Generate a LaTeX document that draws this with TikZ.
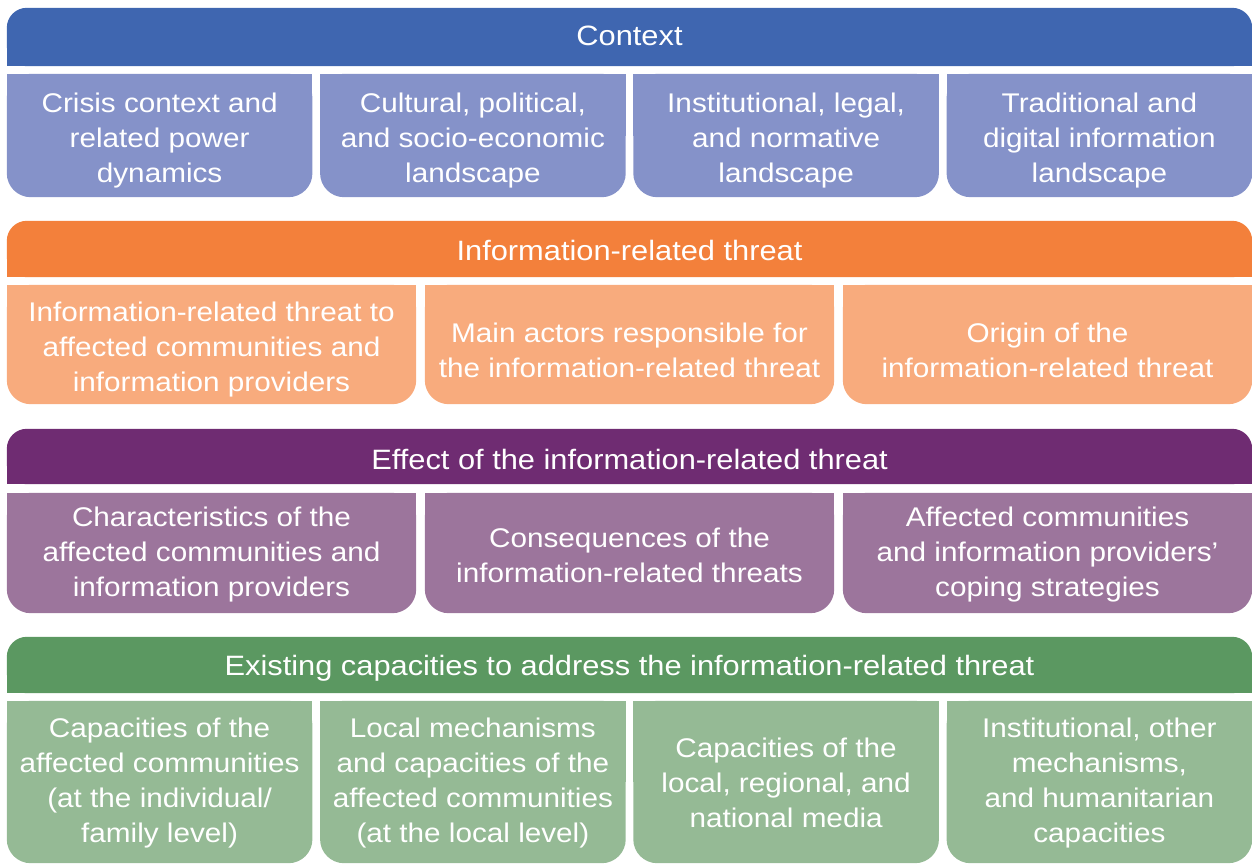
\documentclass[tikz,border=0pt]{standalone}
\usepackage{fontspec}
\setmainfont{Liberation Sans}[FakeStretch=1.1]
\usetikzlibrary{backgrounds}

\definecolor{ctxH}{HTML}{3F66B0}
\definecolor{ctxS}{HTML}{8592C9}
\definecolor{thrH}{HTML}{F3803B}
\definecolor{thrS}{HTML}{F8AB7D}
\definecolor{effH}{HTML}{6F2C72}
\definecolor{effS}{HTML}{9C759C}
\definecolor{capH}{HTML}{5B9861}
\definecolor{capS}{HTML}{95BA95}

\tikzset{
  box/.style={text=white, align=center, inner sep=0pt,
    font=\fontsize{27}{35}\selectfont},
  hdr/.style={box, minimum width=1245pt, minimum height=#1,
    font=\fontsize{28}{35}\selectfont},
  quarter/.style={box, minimum width=305.25pt, minimum height=#1},
  third/.style={box, minimum width=409pt, minimum height=#1},
}

% header band: rounded on top, square at the bottom
% (#3 raises the band relative to its text)
\newcommand\hdrfill[3]{%
  \fill[#2, rounded corners=20pt] ([yshift=#3]#1.north west) rectangle ([yshift=#3]#1.south east);
  \fill[#2] ([yshift=#3]#1.west) rectangle ([yshift=#3]#1.south east);}
% sub box: square on top, rounded at the bottom
\newcommand\subfill[3]{%
  \fill[#2, rounded corners=24pt] ([yshift=#3]#1.north west) rectangle ([yshift=#3]#1.south east);
  \fill[#2] ([yshift=#3]#1.north west) rectangle ([yshift=#3]#1.east);}

\begin{document}
\begin{tikzpicture}[x=1pt, y=-1pt]
\useasboundingbox (0,0) rectangle (1252,865);

% Context
\node[hdr=58pt] (ctx) at (629.5,36) {Context};
\node[quarter=123pt] (c1) at (159.6,141) {Crisis context and\\related power\\dynamics};
\node[quarter=123pt] (c2) at (472.9,141) {Cultural, political,\\and socio-economic\\landscape};
\node[quarter=123pt] (c3) at (786.1,141) {Institutional, legal,\\and normative\\landscape};
\node[quarter=123pt] (c4) at (1099.4,141) {Traditional and\\digital information\\landscape};

% Threat
\node[hdr=56pt] (thr) at (629.5,250) {Information-related threat};
\node[third=119pt] (t1) at (211.5,350) {Information-related threat to\\affected communities and\\information providers};
\node[third=119pt] (t2) at (629.5,350) {Main actors responsible for\\the information-related threat};
\node[third=119pt] (t3) at (1047.5,350) {Origin of the\\information-related threat};

% Effect
\node[hdr=55pt] (eff) at (629.5,459) {Effect of the information-related threat};
\node[third=120pt] (e1) at (211.5,555) {Characteristics of the\\affected communities and\\information providers};
\node[third=120pt] (e2) at (629.5,555) {Consequences of the\\information-related threats};
\node[third=120pt] (e3) at (1047.5,555) {Affected communities\\and information providers’\\coping strategies};

% Capacities
\node[hdr=56pt] (cap) at (629.5,668) {Existing capacities to address the information-related threat};
\node[quarter=162pt] (k1) at (159.6,783) {Capacities of the\\affected communities\\(at the individual/\\family level)};
\node[quarter=162pt] (k2) at (472.9,783) {Local mechanisms\\and capacities of the\\affected communities\\(at the local level)};
\node[quarter=162pt] (k3) at (786.1,783) {Capacities of the\\local, regional, and\\national media};
\node[quarter=162pt] (k4) at (1099.4,783) {Institutional, other\\mechanisms,\\and humanitarian\\capacities};

\begin{pgfonlayer}{background}
  \hdrfill{ctx}{ctxH}{-1pt}
  \hdrfill{thr}{thrH}{1pt}
  \hdrfill{eff}{effH}{2.5pt}
  \hdrfill{cap}{capH}{3pt}
  \foreach \n in {c1,c2,c3,c4} {\subfill{\n}{ctxS}{5.5pt}}
  \foreach \n in {t1,t2,t3} {\subfill{\n}{thrS}{5.5pt}}
  \foreach \n in {e1,e2,e3} {\subfill{\n}{effS}{2pt}}
  \foreach \n in {k1,k2,k3,k4} {\subfill{\n}{capS}{1pt}}
\end{pgfonlayer}
\end{tikzpicture}
\end{document}
